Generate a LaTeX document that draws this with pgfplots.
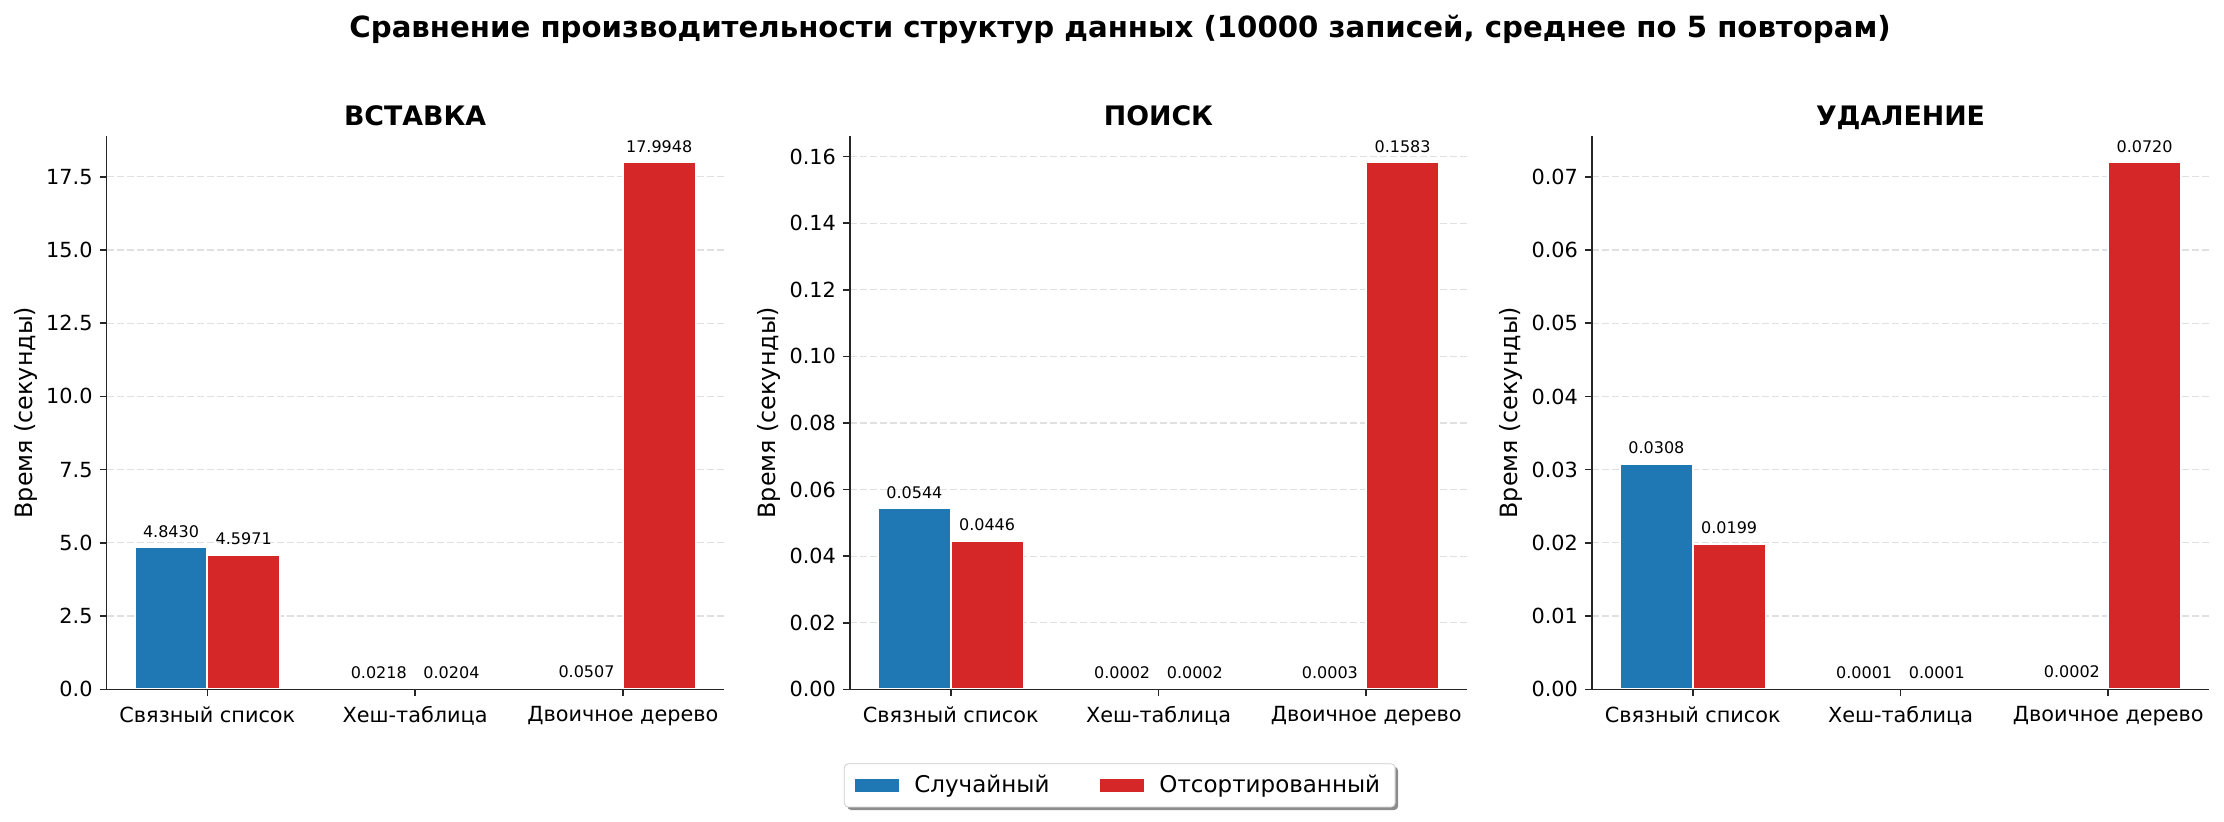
\documentclass[border=0pt]{standalone}
\usepackage{fontspec}
\setmainfont{DejaVu Sans}
\usepackage{pgfplots}
\pgfplotsset{compat=1.18}
\usetikzlibrary{shadows}

\definecolor{cblue}{HTML}{1F77B4}
\definecolor{cred}{HTML}{D62728}

\makeatletter
\tikzset{no preactions/.code={\let\tikz@preactions\pgfutil@empty}}
\makeatother

\pgfplotsset{
    /pgf/number format/assume math mode=true,
    panel/.style={
        scale only axis,
        width=308.5pt, height=276.7pt,
        anchor=south west,
        set layers, axis on top,
        axis x line*=bottom, axis y line*=left,
        axis line style={-, line width=0.8pt, black!85},
        xmin=-0.485, xmax=2.485, ymin=0,
        xtick={0,1,2},
        xticklabels={Связный список, Хеш-таблица, Двоичное дерево},
        tick align=outside, major tick length=3.5pt,
        tick style={line width=0.8pt, black!85},
        ymajorgrids,
        major grid style={dash pattern=on 3.5pt off 1.5pt, black!12, line width=0.6pt,
            /pgfplots/on layer=axis background},
        ticklabel style={font=\fontsize{10.4}{12}\selectfont},
        xticklabel style={yshift=-1.5pt},
        scaled y ticks=false,
        ylabel={Время (секунды)},
        ylabel style={font=\fontsize{11.9}{14}\selectfont, at={(axis description cs:-0.131,0.5)}, anchor=center},
        every axis title/.style={at={(0.5,1)}, anchor=base, yshift=5pt,
            font=\fontsize{13.4}{16}\selectfont\bfseries},
        ybar, bar width=0.35,
        nodes near coords={\pgfmathprintnumber[fixed, fixed zerofill, precision=4]{\pgfplotspointmeta}},
        every node near coord/.append style={font=\fontsize{8}{9.5}\selectfont, anchor=base, yshift=5pt, black},
        legend image code/.code={\fill[#1, draw=none, sharp corners, no preactions] (0pt,-3.35pt) rectangle (22pt,3.35pt);},
    },
    blue bars/.style={fill=cblue, draw=white, line width=0.9pt, bar shift=-0.175},
    red bars/.style={fill=cred, draw=white, line width=0.9pt, bar shift=0.175},
}

\begin{document}
\begin{tikzpicture}

\node[anchor=base, font=\fontsize{14.6}{17}\selectfont\bfseries] at (560pt,391.8pt)
    {Сравнение производительности структур данных (10000 записей, среднее по 5 повторам)};

% Вставка
\begin{axis}[panel, at={(53.3pt,65.85pt)}, title={ВСТАВКА},
    ymax=18.894, ytick={0,2.5,5,7.5,10,12.5,15,17.5},
    yticklabel style={/pgf/number format/.cd, fixed, fixed zerofill, precision=1},
    legend columns=2,
    legend style={at={(1.642,-0.1737)}, anchor=center,
        draw=black!20, rounded corners=2pt, fill=white,
        drop shadow={shadow xshift=1.5pt, shadow yshift=-1.5pt, fill=black!45, opacity=1},
        font=\fontsize{11.5}{14}\selectfont,
        inner xsep=5.5pt, inner ysep=3.7pt,
        /tikz/every odd column/.append style={column sep=5.5pt},
        /tikz/every even column/.append style={column sep=23.5pt}},
]
\addplot[blue bars] coordinates {(0,4.8430) (1,0.0218) (2,0.0507)};
\addplot[red bars] coordinates {(0,4.5971) (1,0.0204) (2,17.9948)};
\legend{Случайный, Отсортированный}
\end{axis}

% Поиск
\begin{axis}[panel, at={(425pt,65.85pt)}, title={ПОИСК},
    ymax=0.16622, ytick={0,0.02,0.04,0.06,0.08,0.10,0.12,0.14,0.16},
    yticklabel style={/pgf/number format/.cd, fixed, fixed zerofill, precision=2},
]
\addplot[blue bars] coordinates {(0,0.0544) (1,0.0002) (2,0.0003)};
\addplot[red bars] coordinates {(0,0.0446) (1,0.0002) (2,0.1583)};
\end{axis}

% Удаление
\begin{axis}[panel, at={(796pt,65.85pt)}, title={УДАЛЕНИЕ},
    ymax=0.0756, ytick={0,0.01,0.02,0.03,0.04,0.05,0.06,0.07},
    yticklabel style={/pgf/number format/.cd, fixed, fixed zerofill, precision=2},
]
\addplot[blue bars] coordinates {(0,0.0308) (1,0.0001) (2,0.0002)};
\addplot[red bars] coordinates {(0,0.0199) (1,0.0001) (2,0.0720)};
\end{axis}

\pgfresetboundingbox
\path[use as bounding box] (0,0) rectangle (1112pt,410.5pt);
\end{tikzpicture}
\end{document}
